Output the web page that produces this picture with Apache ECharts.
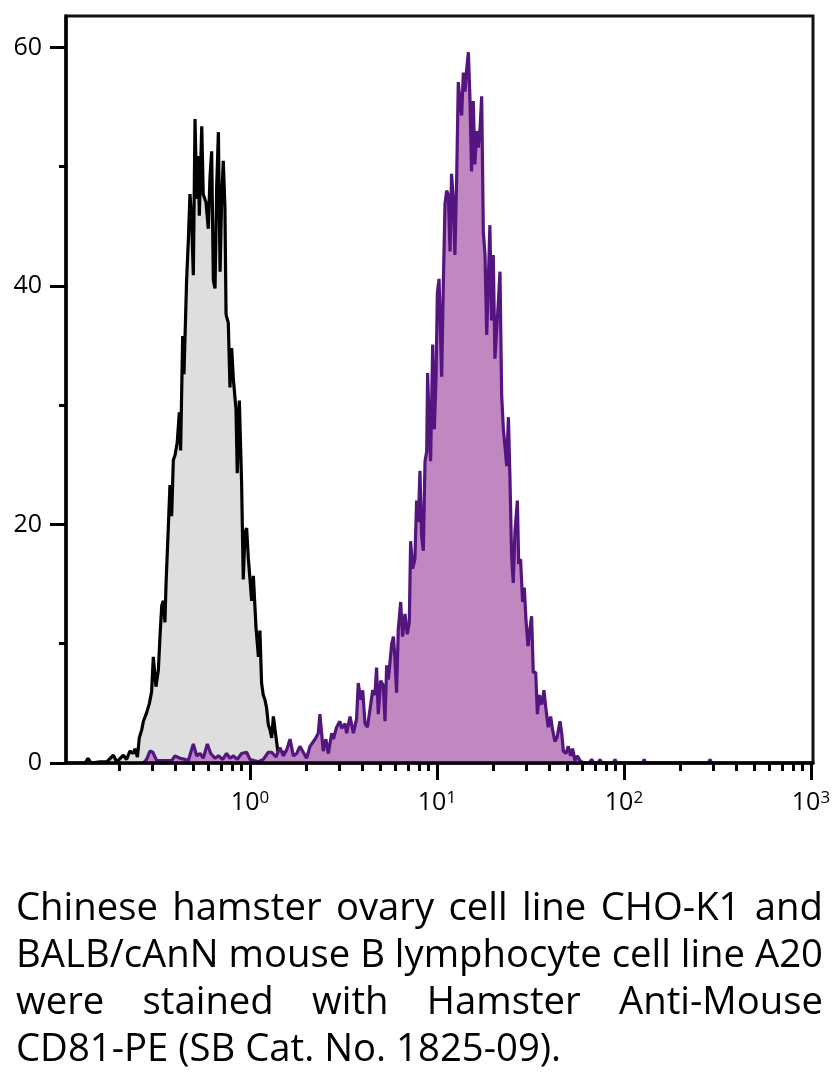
<!DOCTYPE html>
<html>
<head>
<meta charset="utf-8">
<script src="https://cdn.jsdelivr.net/npm/echarts@6/dist/echarts.min.js"></script>
<style>
  html, body { margin: 0; padding: 0; background: #fff; }
  #chart { width: 835px; height: 1084px; }
</style>
</head>
<body>
<div id="chart"></div>
<script>
// ---- Data (x = log10 of fluorescence intensity, y = cell count) ----
const choExp = [-0.882,-0.866,-0.850,-0.802,-0.766,-0.731,-0.713,-0.677,-0.660,-0.642,-0.624,-0.615,-0.602,-0.592,-0.579,-0.570,-0.553,-0.538,-0.526,-0.517,-0.503,-0.490,-0.481,-0.472,-0.463,-0.455,-0.449,-0.437,-0.428,-0.419,-0.410,-0.401,-0.389,-0.378,-0.371,-0.360,-0.353,-0.339,-0.330,-0.321,-0.312,-0.303,-0.294,-0.285,-0.276,-0.271,-0.258,-0.250,-0.235,-0.223,-0.214,-0.205,-0.196,-0.187,-0.178,-0.169,-0.160,-0.152,-0.143,-0.134,-0.128,-0.116,-0.107,-0.098,-0.089,-0.075,-0.068,-0.057,-0.045,-0.036,-0.027,-0.018,-0.009,0.000,0.009,0.018,0.032,0.045,0.053,0.062,0.071,0.080,0.089,0.098,0.107,0.116,0.125,0.134,0.143,0.152,0.160,0.169,0.178,0.187,0.205];
const choCount = [0,0.4,0,0.1,0.1,0.65,0.1,0.65,0.3,1.0,0.8,1.2,0.5,2.1,2.8,3.5,4.2,5.0,6.0,8.9,6.4,7.8,10.7,13.2,13.6,11.8,15.0,19.7,23.3,20.7,25.4,25.8,26.9,29.4,26.2,35.8,32.6,40.5,43.7,47.7,45.5,40.9,54.0,47.3,50.9,45.9,53.4,47.7,47.0,44.8,49.1,51.3,40.5,39.8,48.4,52.9,41.2,47.0,50.5,46.6,37.6,36.9,31.5,34.8,32.2,29.7,24.3,30.4,23.6,15.4,19.3,19.7,17.2,15.4,13.6,15.7,11.4,8.9,11.1,6.7,5.7,5.3,4.6,3.2,2.8,2.1,3.9,2.8,1.7,0.65,1.2,0.5,1.0,0.3,0];

const a20Exp = [-0.570,-0.553,-0.535,-0.520,-0.499,-0.472,-0.419,-0.401,-0.374,-0.348,-0.330,-0.303,-0.285,-0.267,-0.250,-0.228,-0.210,-0.187,-0.169,-0.146,-0.125,-0.107,-0.089,-0.068,-0.045,-0.018,0.000,0.021,0.045,0.071,0.098,0.116,0.139,0.160,0.178,0.196,
0.214,0.232,0.250,0.267,0.285,0.303,0.321,0.339,0.348,0.365,0.374,0.383,0.392,0.406,0.419,0.437,0.446,0.463,0.481,0.490,0.508,0.517,0.535,0.553,0.570,0.579,0.592,0.603,0.615,0.628,0.642,0.656,0.668,0.677,0.686,0.699,0.713,0.722,0.731,0.740,0.758,0.767,0.775,0.784,0.793,0.806,0.816,0.829,0.841,0.852,0.859,0.870,0.882,0.891,0.900,0.909,0.918,0.927,0.936,0.945,0.950,0.959,0.966,0.977,0.986,0.995,1.002,1.011,
1.025,1.034,1.043,1.052,1.061,1.070,1.078,1.087,1.096,1.105,1.114,1.123,1.132,1.141,1.150,1.159,1.168,1.176,1.185,1.194,1.203,1.212,1.221,1.230,1.239,1.248,1.257,1.266,1.275,1.283,1.292,1.301,1.310,1.319,1.328,1.337,1.346,1.355,1.364,1.373,1.382,1.390,1.399,1.408,1.417,1.430,1.437,1.447,1.458,1.467,1.476,1.487,1.497,1.506,1.515,1.528,1.537,1.547,1.560,1.572,1.583,1.595,1.608,1.618,1.631,1.643,1.658,1.667,1.676,1.690,1.702,1.715,1.725,1.738,1.750,1.765,1.774,1.785,1.815,1.827,1.838,1.862,1.872,1.882,1.943,1.952,1.961,2.100,2.108,2.116,2.452,2.460,2.468];
const a20Count = [0,0.3,1.0,0.9,0.2,0.2,0.2,0.6,0.4,0.3,0.2,1.6,0.6,0.8,0.4,1.6,0.8,0.4,0.6,0.3,0.8,0.4,0.6,0.3,0.8,0.9,0.3,0.2,0.1,0.3,0.9,0.9,0.5,1.3,0.6,1.1,
2.0,0.6,0.8,1.4,0.9,0.4,1.4,1.8,2.0,2.5,4.1,2.5,1.0,2.0,0.8,2.5,2.0,3.0,3.5,2.9,3.3,2.5,3.9,2.5,3.7,6.7,5.3,6.1,3.3,3.0,4.5,6.1,5.7,8.0,4.1,6.9,6.5,3.5,8.2,7.0,10.0,10.6,8.8,5.9,11.2,13.5,10.6,12.5,10.8,11.8,18.6,16.3,17.1,22.0,20.2,24.5,19.0,17.8,25.3,26.1,32.7,28.0,25.3,35.1,28.0,32.4,39.4,40.6,
32.4,40.2,46.9,48.0,47.6,42.9,49.4,47.3,42.6,48.8,57.1,55.5,54.3,57.9,56.3,58.2,59.6,55.9,49.6,55.5,50.2,53.0,51.6,53.1,55.9,44.5,42.6,35.9,40.6,45.1,37.1,42.6,33.9,36.3,38.6,41.2,30.8,28.0,26.5,24.9,29.0,24.1,17.4,15.1,19.4,22.0,16.7,17.1,13.5,14.7,12.0,9.8,11.2,12.3,7.6,7.6,4.1,5.7,4.9,6.1,4.5,3.0,3.9,2.8,1.8,2.2,3.5,2.5,1.0,0.8,1.4,0.6,1.2,0.2,0.6,0.2,0.35,0,0,0.3,0,0,0.3,0,0,0.3,0,0,0.3,0,0,0.3,0];

// ---- Axes ----
const xRange = [-0.984, 3.011];         // log10 extent of the x axis
const yRange = [0, 62.64];
const xMajorExp = [0, 1, 2, 3];
const xMinorMult = [2, 3, 4, 5, 6, 7, 8, 9];
const xMinorDecades = [-1, 0, 1, 2];
const yMajorTicks = [0, 20, 40, 60];
const yMinorTicks = [10, 30, 50];

const captionLines = [
  "Chinese hamster ovary cell line CHO-K1 and",
  "BALB/cAnN mouse B lymphocyte cell line A20",
  "were stained with Hamster Anti-Mouse",
  "CD81-PE (SB Cat. No. 1825-09)."
];

const FONT = 'Open Sans';

const xMinorExp = [];
xMinorDecades.forEach(d => xMinorMult.forEach(k => {
  const v = Math.log10(k) + d;
  if (v > xRange[0] && v < xRange[1]) xMinorExp.push(v);
}));

function pairs(xs, ys) { return xs.map((x, i) => [x, ys[i]]); }

// ---- Caption (justified) ----
function buildCaption() {
  const fs = 39;
  const ctx = document.createElement('canvas').getContext('2d');
  ctx.font = fs + 'px "' + FONT + '"';
  const left = 16, right = 823, width = right - left;
  const space = ctx.measureText(' ').width;
  const natural = captionLines.map(l => ctx.measureText(l).width);
  const sx = Math.min(1, width / Math.max.apply(null, natural));
  const capY = [909, 956, 1003, 1050];
  const els = [];
  captionLines.forEach((line, i) => {
    const words = line.split(' ');
    const ws = words.map(w => ctx.measureText(w).width * sx);
    const total = ws.reduce((a, b) => a + b, 0);
    const justify = i < captionLines.length - 1;
    const gap = justify ? (width - total) / (words.length - 1) : space * sx;
    let x = left;
    words.forEach((w, j) => {
      els.push({
        type: 'text', x: x, y: capY[i], scaleX: sx, silent: true,
        style: { text: w, fontSize: fs, fontFamily: FONT, fill: '#000', align: 'left', verticalAlign: 'middle' }
      });
      x += ws[j] + gap;
    });
  });
  return els;
}

const chart = echarts.init(document.getElementById('chart'), null, { renderer: 'canvas' });

const tickStyle = { color: '#000', width: 3 };

chart.setOption({
  animation: false,
  backgroundColor: '#fff',
  textStyle: { fontFamily: FONT, color: '#000' },
  grid: {
    left: 66, top: 16, width: 747, height: 747,
    show: true, borderColor: '#111', borderWidth: 3, backgroundColor: 'transparent'
  },
  xAxis: [
    {
      type: 'value', min: xRange[0], max: xRange[1], position: 'bottom', z: 5,
      axisLine: { show: true, onZero: false, lineStyle: { color: '#000', width: 3.5 } },
      axisTick: { show: true, length: 17, lineStyle: tickStyle, customValues: xMajorExp },
      axisLabel: {
        customValues: xMajorExp, margin: 27, color: '#000', fontSize: 25, fontFamily: FONT,
        formatter: v => '{b|10}{s|' + Math.round(v) + '}',
        rich: {
          b: { fontSize: 25, fontFamily: FONT, color: '#000', verticalAlign: 'bottom' },
          s: { fontSize: 17, fontFamily: FONT, color: '#000', verticalAlign: 'top' }
        }
      },
      splitLine: { show: false }
    },
    {
      type: 'value', min: xRange[0], max: xRange[1], position: 'bottom', z: 5,
      axisLine: { show: false, onZero: false },
      axisTick: { show: true, length: 8, lineStyle: tickStyle, customValues: xMinorExp },
      axisLabel: { show: false },
      splitLine: { show: false }
    }
  ],
  yAxis: [
    {
      type: 'value', min: yRange[0], max: yRange[1], position: 'left', z: 5,
      axisLine: { show: true, onZero: false, lineStyle: { color: '#000', width: 3.5 } },
      axisTick: { show: true, length: 16, lineStyle: tickStyle, customValues: yMajorTicks },
      axisLabel: { customValues: yMajorTicks, margin: 24, color: '#000', fontSize: 25, fontFamily: FONT },
      splitLine: { show: false }
    },
    {
      type: 'value', min: yRange[0], max: yRange[1], position: 'left', z: 5,
      axisLine: { show: false, onZero: false },
      axisTick: { show: true, length: 7, lineStyle: tickStyle, customValues: yMinorTicks },
      axisLabel: { show: false },
      splitLine: { show: false }
    }
  ],
  series: [
    {
      name: 'CHO-K1', type: 'line', xAxisIndex: 0, yAxisIndex: 0,
      data: pairs(choExp, choCount), showSymbol: false, symbol: 'none',
      lineStyle: { color: '#000', width: 3.2 },
      areaStyle: { color: '#dedede', opacity: 1 },
      z: 2
    },
    {
      name: 'A20', type: 'line', xAxisIndex: 0, yAxisIndex: 0,
      data: pairs(a20Exp, a20Count), showSymbol: false, symbol: 'none',
      lineStyle: { color: '#551580', width: 3.2 },
      areaStyle: { color: '#c088c0', opacity: 1 },
      z: 3
    }
  ],
  graphic: buildCaption()
});
</script>
</body>
</html>
